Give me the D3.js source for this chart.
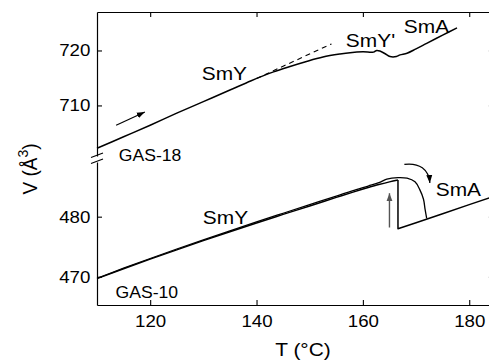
<!DOCTYPE html>
<html><head><meta charset="utf-8">
<script src="https://cdn.jsdelivr.net/npm/d3@7"></script>
<style>
html,body{margin:0;padding:0;background:#fff;}
svg{display:block;font-family:"Liberation Sans",Arial,Helvetica,sans-serif;}
</style></head><body>
<svg id="chart" width="489" height="360"></svg>
<script>
// Axis ticks
const tempTicks = [120, 140, 160, 180];
const topVolTicks = [710, 720];
const botVolTicks = [470, 480];

// GAS-18 heating run (T in °C, V in Å^3)
const gas18T = [110, 115, 120, 125, 130, 135, 139, 143.2, 146, 149.4, 152.5, 155.7, 157.6, 160, 162.0, 162.6, 163.2, 164.2, 165.1, 166.3, 167.0, 168.3, 170, 172.0, 175, 177.7];
const gas18V = [702.2, 704.3, 706.4, 708.6, 710.7, 712.8, 714.5, 716.1, 717.0, 718.0, 718.8, 719.35, 719.6, 719.75, 719.7, 720.0, 719.9, 719.4, 718.9, 718.9, 719.2, 719.5, 720.3, 721.3, 722.8, 724.1];
// Linear extrapolation of the SmY volume
const gas18TrendT = [140, 154.1];
const gas18TrendV = [714.9, 721.2];

// GAS-10 heating, SmY branch
const gas10HeatT = [110, 115, 120, 125, 130, 135, 140, 145, 150, 155, 158, 161, 163, 165, 166.6];
const gas10HeatV = [469.7, 471.33, 472.92, 474.48, 476.0, 477.49, 478.95, 480.37, 481.78, 483.2, 484.05, 484.85, 485.35, 485.8, 486.1];
// GAS-10 heating, volume jump and SmA branch
const gas10SmAT = [166.6, 166.6, 170, 175, 180, 184];
const gas10SmAV = [486.1, 478.0, 479.0, 480.5, 482.0, 483.2];
// GAS-10 cooling from SmA back into SmY
const gas10CoolT = [172.0, 171.7, 171.4, 170.7, 169.8, 168.3, 166.6, 164.5, 163, 161, 158, 155, 150, 145, 140, 135, 130, 125, 120, 115, 110];
const gas10CoolV = [479.7, 481.2, 482.9, 484.5, 485.8, 486.4, 486.5, 486.25, 485.65, 485.1, 484.3, 483.42, 482.0, 480.57, 479.13, 477.65, 476.15, 474.62, 473.04, 471.42, 469.75];

// Text labels: [text, T, V, font size, panel]
const labelText = ["GAS-18", "SmY", "SmY'", "SmA", "GAS-10", "SmY", "SmA"];
const labelT    = [114.1, 129.7, 156.8, 167.7, 113.5, 129.9, 173.7];
const labelV    = [699.9, 714.7, 720.6, 723.1, 466.5, 478.8, 483.5];
const labelSize = [16, 19, 19, 19, 16, 19, 19];
const labelPanel = ["top", "top", "top", "top", "bot", "bot", "bot"];

const W = 489, H = 360;
const SX = 1.1; // horizontal text stretch
const svg = d3.select("#chart");

const x = d3.scaleLinear().domain([110, 184]).range([97, 490.5]);
const yTop = d3.scaleLinear().domain([700.8, 727]).range([156, 12]);
const yBot = d3.scaleLinear().domain([465.3, 489.1]).range([305, 162]);

// markers
const defs = svg.append("defs");
function marker(id, color) {
  defs.append("marker").attr("id", id)
    .attr("markerUnits", "userSpaceOnUse")
    .attr("markerWidth", 9).attr("markerHeight", 7)
    .attr("refX", 8).attr("refY", 3.5).attr("orient", "auto")
    .append("path").attr("d", "M0,0.5 L8,3.5 L0,6.5 Z").attr("fill", color);
}
marker("arrowBlack", "#000");
marker("arrowGray", "#555");

// Axes
function styleAxis(g) {
  g.selectAll("path.domain").attr("stroke", "#000").attr("stroke-width", 1.2);
  g.selectAll(".tick line").attr("stroke", "#000").attr("stroke-width", 1.1);
  g.selectAll(".tick text").attr("fill", "#000").attr("font-size", 17)
    .attr("font-family", '"Liberation Sans",Arial,sans-serif')
    .attr("transform", `scale(${SX},1)`);
}
svg.append("g").attr("transform", `translate(0,${yBot.range()[0]})`)
  .call(d3.axisBottom(x).tickValues(tempTicks).tickSizeInner(-5).tickSizeOuter(0).tickPadding(10).tickFormat(d3.format("d")))
  .call(styleAxis);
svg.append("g").attr("transform", `translate(0,${yTop.range()[1]})`)
  .call(d3.axisTop(x).tickValues(tempTicks).tickSizeInner(-5).tickSizeOuter(0).tickFormat(""))
  .call(styleAxis);
svg.append("g").attr("transform", `translate(${x.range()[0]},0)`)
  .call(d3.axisLeft(yTop).tickValues(topVolTicks).tickSizeInner(-5).tickSizeOuter(0).tickPadding(6).tickFormat(d3.format("d")))
  .call(styleAxis);
svg.append("g").attr("transform", `translate(${x.range()[0]},0)`)
  .call(d3.axisLeft(yBot).tickValues(botVolTicks).tickSizeInner(-5).tickSizeOuter(0).tickPadding(6).tickFormat(d3.format("d")))
  .call(styleAxis);
// right-hand frame, mostly outside the view
svg.append("g").attr("transform", `translate(${x.range()[1] + 1},0)`)
  .call(d3.axisRight(yTop).tickValues(topVolTicks).tickSizeInner(-3).tickSizeOuter(0).tickFormat(""))
  .call(g => g.selectAll("line,path").attr("stroke", "#bbb"));
svg.append("g").attr("transform", `translate(${x.range()[1] + 1},0)`)
  .call(d3.axisRight(yBot).tickValues(botVolTicks).tickSizeInner(-3).tickSizeOuter(0).tickFormat(""))
  .call(g => g.selectAll("line,path").attr("stroke", "#bbb"));

// axis break marks
const bx = x.range()[0];
const brk = svg.append("g").attr("stroke", "#000").attr("stroke-width", 1.1).attr("fill", "none");
brk.append("line").attr("x1", bx - 6).attr("y1", yTop.range()[0] + 1.5).attr("x2", bx + 6).attr("y2", yTop.range()[0] - 3);
brk.append("line").attr("x1", bx - 6).attr("y1", yBot.range()[1] + 1.5).attr("x2", bx + 6).attr("y2", yBot.range()[1] - 3);

// Curves
const lineTop = d3.line().x(d => x(d[0])).y(d => yTop(d[1]));
const lineBot = d3.line().x(d => x(d[0])).y(d => yBot(d[1]));
const curves = svg.append("g").attr("fill", "none").attr("stroke", "#000").attr("stroke-linejoin", "round");

curves.append("path").datum(d3.zip(gas18T, gas18V))
  .attr("d", lineTop.curve(d3.curveCatmullRom.alpha(0.5))).attr("stroke-width", 1.5);
curves.append("path").datum(d3.zip(gas18TrendT, gas18TrendV))
  .attr("d", d3.line().x(d => x(d[0])).y(d => yTop(d[1]))).attr("stroke-width", 1.1).attr("stroke-dasharray", "5,4");

curves.append("path").datum(d3.zip(gas10HeatT, gas10HeatV))
  .attr("d", lineBot.curve(d3.curveMonotoneX)).attr("stroke-width", 1.4);
curves.append("path").datum(d3.zip(gas10SmAT, gas10SmAV))
  .attr("d", d3.line().x(d => x(d[0])).y(d => yBot(d[1]))).attr("stroke-width", 1.5);
curves.append("path").datum(d3.zip(gas10CoolT, gas10CoolV))
  .attr("d", d3.line().x(d => x(d[0])).y(d => yBot(d[1])).curve(d3.curveCatmullRom.alpha(0.5))).attr("stroke-width", 1.3);

// Arrows
svg.append("line")
  .attr("x1", x(113.6)).attr("y1", yTop(706.4)).attr("x2", x(119.0)).attr("y2", yTop(708.8))
  .attr("stroke", "#000").attr("stroke-width", 1.2).attr("marker-end", "url(#arrowBlack)");
svg.append("line")
  .attr("x1", x(165.0)).attr("y1", yBot(478.2)).attr("x2", x(165.0)).attr("y2", yBot(483.9))
  .attr("stroke", "#555").attr("stroke-width", 1.4).attr("marker-end", "url(#arrowGray)");
const cp = [[167.8, 488.7], [170.6, 489.0], [172.4, 487.9], [172.6, 485.6]];
svg.append("path")
  .attr("d", `M${x(cp[0][0])},${yBot(cp[0][1])} C${x(cp[1][0])},${yBot(cp[1][1])} ${x(cp[2][0])},${yBot(cp[2][1])} ${x(cp[3][0])},${yBot(cp[3][1])}`)
  .attr("fill", "none").attr("stroke", "#000").attr("stroke-width", 1.2).attr("marker-end", "url(#arrowBlack)");

// Labels
function stretchedText(px, py, str, size, anchor) {
  return svg.append("text")
    .attr("transform", `translate(${px},${py}) scale(${SX},1)`)
    .attr("font-size", size).attr("text-anchor", anchor || "start").attr("fill", "#000").text(str);
}
labelText.forEach((t, i) => {
  const ys = labelPanel[i] === "top" ? yTop : yBot;
  stretchedText(x(labelT[i]), ys(labelV[i]), t, labelSize[i]);
});

// Axis titles
stretchedText((x.range()[0] + 489) / 2 + 10, 356, "T (°C)", 19, "middle");
const yt = svg.append("text")
  .attr("transform", `translate(37,169) rotate(-90) scale(1,${SX})`)
  .attr("font-size", 19).attr("text-anchor", "middle").attr("fill", "#000");
yt.append("tspan").text("V (Å");
yt.append("tspan").attr("font-size", 14).attr("dy", -8).text("3");
yt.append("tspan").attr("dy", 8).text(")");
</script>
</body></html>
